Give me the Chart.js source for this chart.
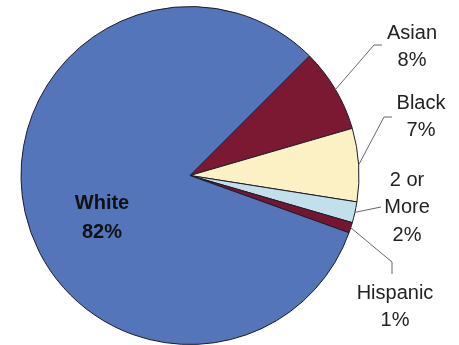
<!DOCTYPE html>
<html>
<head>
<meta charset="utf-8">
<script src="https://cdn.jsdelivr.net/npm/chart.js@4/dist/chart.umd.min.js"></script>
<style>
  html, body { margin: 0; padding: 0; background: #fff; }
  #wrap { width: 459px; height: 345px; }
</style>
</head>
<body>
<div id="wrap"><canvas id="pie"></canvas></div>
<script>
// data
var categories = ['Asian', 'Black', '2 or More', 'Hispanic', 'White'];
var percents = [8, 7, 2, 1, 82];
var colors = ['#7b1832', '#fcf1c4', '#c2dfec', '#761530', '#5475b9'];

// label text lines + where they sit (layout only)
var labelLines = [['Asian', '8%'], ['Black', '7%'], ['2 or', 'More', '2%'], ['Hispanic', '1%'], ['White', '82%']];
var labelPos = [
  {x: 412, y: 33, elbow: [374, 45], end: [382, 45]},
  {x: 421, y: 103, elbow: [384, 117], end: [392, 117]},
  {x: 407, y: 180, elbow: null, end: [381, 207]},
  {x: 395, y: 293, elbow: [392, 262], end: [392, 274]},
  {x: 102, y: 203, inside: true}
];

var labelPlugin = {
  id: 'pieLabels',
  afterDatasetsDraw: function (chart) {
    var ctx = chart.ctx;
    var arcs = chart.getDatasetMeta(0).data;
    ctx.save();
    arcs.forEach(function (arc, i) {
      var p = labelPos[i];
      var lines = labelLines[i];
      if (!p.inside) {
        var mid = (arc.startAngle + arc.endAngle) / 2;
        var sx = arc.x + Math.cos(mid) * arc.outerRadius;
        var sy = arc.y + Math.sin(mid) * arc.outerRadius;
        ctx.strokeStyle = '#666';
        ctx.lineWidth = 1;
        ctx.beginPath();
        ctx.moveTo(sx, sy);
        if (p.elbow) ctx.lineTo(p.elbow[0], p.elbow[1]);
        ctx.lineTo(p.end[0], p.end[1]);
        ctx.stroke();
      }
      ctx.fillStyle = p.inside ? '#111' : '#222';
      ctx.font = (p.inside ? 'bold 20px' : '20px') + ' "Liberation Sans", Arial, sans-serif';
      ctx.textAlign = 'center';
      ctx.textBaseline = 'middle';
      lines.forEach(function (t, k) {
        ctx.fillText(t, p.x, p.y + k * (p.inside ? 29 : 27.5));
      });
    });
    ctx.restore();
  }
};

var options = {
  type: 'pie',
  data: {
    labels: categories,
    datasets: [
      {
        data: percents,
        backgroundColor: colors,
        borderColor: '#1b1b28',
        borderWidth: 1
      }
    ]
  },
  options: {
    responsive: true,
    maintainAspectRatio: false,
    animation: false,
    rotation: 45,
    layout: { padding: { left: 20, right: 99, top: 6, bottom: 0 } },
    plugins: {
      legend: { display: false },
      tooltip: { enabled: false }
    }
  },
  plugins: [labelPlugin]
};

var ctx = document.getElementById('pie').getContext('2d');
new Chart(ctx, options);
</script>
</body>
</html>
